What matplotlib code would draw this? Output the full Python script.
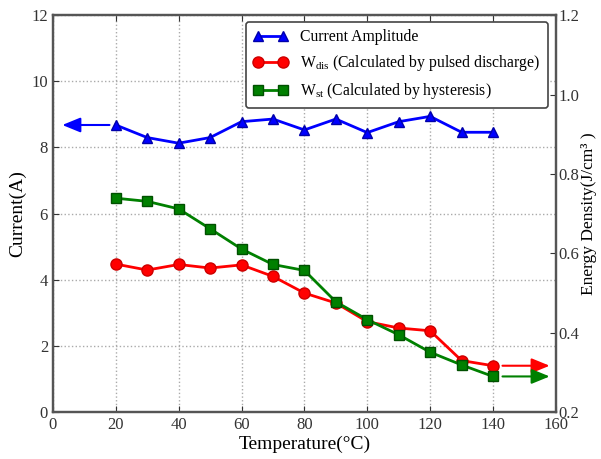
import numpy as np
import matplotlib
matplotlib.use("Agg")
import matplotlib.pyplot as plt

plt.rcParams['font.family'] = ['Liberation Serif', 'DejaVu Serif']
plt.rcParams['mathtext.fontset'] = 'custom'
plt.rcParams['mathtext.rm'] = 'Liberation Serif'
plt.rcParams['mathtext.it'] = 'Liberation Serif:italic'

# Dados
temperatura = [20, 30, 40, 50, 60, 70, 80, 90, 100, 110, 120, 130, 140]
corrente = [8.68, 8.30, 8.13, 8.30, 8.78, 8.86, 8.53, 8.86, 8.45, 8.78, 8.94, 8.46, 8.46]
w_dis = [0.573, 0.558, 0.572, 0.563, 0.571, 0.542, 0.500, 0.475, 0.428, 0.412, 0.405, 0.330, 0.317]
w_st = [0.739, 0.731, 0.712, 0.662, 0.611, 0.572, 0.557, 0.478, 0.433, 0.395, 0.351, 0.319, 0.290]

fig = plt.figure(figsize=(6.01, 4.59), dpi=100)
ax1 = fig.add_axes([0.088, 0.102, 0.837, 0.865])
ax2 = ax1.twinx()

l1, = ax1.plot(temperatura, corrente, color='#0000ff', lw=2, marker='^', ms=7,
               mec='#0000aa', label='Current Amplitude')
l2, = ax2.plot(temperatura, w_dis, color='#ff0000', lw=2, marker='o', ms=8,
               mec='#cc0000', label=r'W$_{\rm dis}$ (Calculated by pulsed discharge)')
l3, = ax2.plot(temperatura, w_st, color='#008000', lw=2, marker='s', ms=7.5,
               mec='#005000', label=r'W$_{\rm st}$ (Calculated by hysteresis)')

# Setas indicando o eixo de cada curva
seta = dict(arrowstyle='-|>,head_length=1.1,head_width=0.45', lw=1.5, shrinkA=0, shrinkB=0)
ax1.annotate('', xy=(3, corrente[0]), xytext=(18, corrente[0]),
             arrowprops=dict(seta, color='#0000ff'))
ax2.annotate('', xy=(158, w_dis[-1]), xytext=(143, w_dis[-1]),
             arrowprops=dict(seta, color='#ff0000'))
ax2.annotate('', xy=(158, w_st[-1]), xytext=(143, w_st[-1]),
             arrowprops=dict(seta, color='#008000'))

ax1.set_xlim(0, 160)
ax1.set_ylim(0, 12)
ax2.set_ylim(0.2, 1.2)
ax1.set_xticks(np.arange(0, 161, 20))
ax1.set_yticks(np.arange(0, 13, 2))
ax2.set_yticks([0.2, 0.4, 0.6, 0.8, 1.0, 1.2])

ax1.grid(True, color='#aaaaaa', ls=':', lw=1)
ax1.tick_params(direction='in', labelsize=12, top=True, length=4, colors='#333333')
ax2.tick_params(direction='in', labelsize=12, length=4, pad=2, colors='#333333')
for ax in (ax1, ax2):
    for s in ax.spines.values():
        s.set_color('#555555')
        s.set_linewidth(1.6)

ax1.set_xlabel('Temperature(°C)', fontsize=14, labelpad=2)
ax1.set_ylabel('Current(A)', fontsize=14, labelpad=4)
ax2.set_ylabel('Energy Density(J/cm³ )', fontsize=12.5, labelpad=1)

leg = ax2.legend(handles=[l1, l2, l3], loc='upper right', bbox_to_anchor=(0.984, 0.982),
                 borderaxespad=0, numpoints=2, fontsize=11.3, fancybox=True, framealpha=1,
                 handlelength=2.2, borderpad=0.45, labelspacing=0.5)
leg.get_frame().set_edgecolor('#444444')
leg.get_frame().set_linewidth(1.2)

fig.savefig('out.png', dpi=100)
